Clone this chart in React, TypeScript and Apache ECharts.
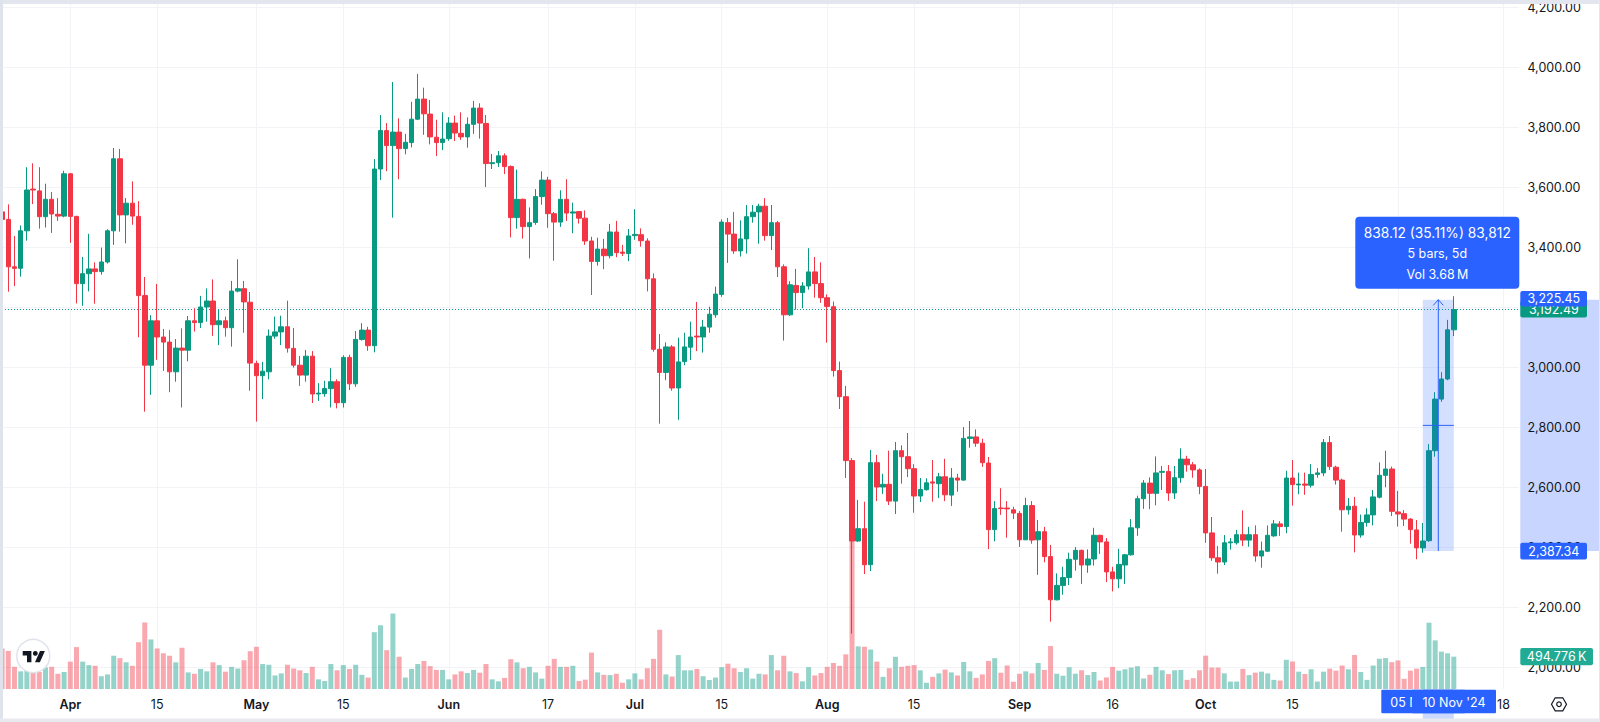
import React, { useEffect, useRef } from "react";
import * as echarts from "echarts";

const firstDay = "2024-03-21";
const slotCount = 245;

const opens = [
  3518,3493,3335,3330,3455,3594,3588,3502,3560,3510,
  3504,3645,3503,3279,3312,3328,3319,3351,3455,3695,
  3508,3547,3503,3239,3007,3155,3101,3084,2985,3064,
  3057,3155,3149,3201,3221,3142,3155,3132,3254,3262,
  3217,3013,2972,2985,3104,3118,3135,3063,3007,2974,
  3037,2911,2912,2929,2952,2882,3033,2945,3093,3124,
  3072,3661,3789,3739,3784,3729,3749,3827,3894,3844,
  3767,3749,3762,3814,3780,3768,3810,3864,3813,3679,
  3682,3705,3669,3499,3560,3469,3483,3569,3624,3512,
  3484,3560,3514,3519,3497,3421,3353,3394,3372,3451,
  3384,3379,3439,3442,3421,3295,3060,2983,3068,2931,
  3019,3067,3104,3101,3134,3175,3243,3482,3444,3388,
  3428,3502,3518,3537,3439,3482,3335,3175,3273,3249,
  3271,3318,3279,3232,3202,2989,2902,2689,2421,2462,
  2342,2682,2601,2610,2554,2722,2702,2662,2571,2592,
  2618,2612,2635,2574,2631,2624,2763,2768,2747,2681,
  2459,2531,2531,2525,2513,2425,2539,2425,2452,2369,
  2225,2273,2299,2360,2390,2341,2361,2440,2418,2318,
  2295,2341,2375,2465,2562,2614,2580,2650,2653,2581,
  2632,2694,2675,2658,2603,2448,2365,2351,2415,2415,
  2442,2424,2442,2371,2387,2438,2478,2469,2631,2608,
  2611,2607,2643,2648,2749,2667,2624,2525,2537,2441,
  2483,2508,2567,2640,2661,2518,2512,2494,2458,2398,
  2422,2722,2894,2961,3125,
];
const closes = [
  3493,3335,3330,3455,3591,3591,3502,3560,3511,3504,
  3645,3503,3279,3312,3328,3319,3351,3455,3695,3508,
  3547,3504,3239,3007,3155,3101,3084,2985,3064,3057,
  3155,3149,3201,3221,3142,3155,3132,3254,3262,3218,
  3014,2972,2987,3104,3118,3135,3064,3007,2974,3037,
  2911,2914,2929,2952,2882,3033,2945,3093,3124,3072,
  3661,3789,3739,3784,3729,3750,3827,3894,3845,3768,
  3749,3761,3814,3781,3768,3810,3864,3814,3679,3682,
  3705,3669,3499,3560,3469,3482,3569,3624,3512,3484,
  3560,3514,3518,3497,3421,3353,3394,3372,3451,3382,
  3380,3438,3443,3422,3295,3060,2983,3068,2931,3018,
  3068,3101,3101,3134,3177,3244,3484,3444,3388,3428,
  3502,3517,3537,3439,3482,3335,3175,3275,3249,3271,
  3318,3279,3232,3203,2989,2902,2689,2421,2462,2342,
  2682,2601,2610,2554,2722,2702,2662,2571,2593,2615,
  2614,2635,2575,2631,2624,2763,2768,2747,2682,2459,
  2529,2529,2528,2514,2425,2539,2424,2452,2369,2225,
  2273,2299,2360,2390,2341,2361,2440,2418,2318,2295,
  2343,2375,2465,2562,2614,2580,2648,2653,2581,2632,
  2694,2675,2658,2603,2448,2365,2351,2415,2418,2442,
  2424,2442,2371,2388,2440,2478,2469,2631,2609,2611,
  2607,2643,2648,2749,2669,2624,2525,2537,2441,2483,
  2508,2568,2640,2661,2520,2511,2494,2459,2398,2421,
  2722,2894,2961,3125,3192.49,
];
const lows = [
  3470,3252,3271,3302,3422,3544,3462,3466,3448,3488,
  3500,3415,3213,3205,3253,3212,3309,3346,3408,3452,
  3413,3475,3100,2852,2908,3025,2988,2917,2952,2866,
  3020,3119,3131,3152,3105,3074,3102,3069,3250,3115,
  2922,2819,2894,2960,3095,3074,3049,2999,2938,2952,
  2881,2888,2902,2866,2863,2866,2924,2935,3089,3055,
  3050,3624,3654,3499,3627,3710,3733,3824,3775,3743,
  3704,3724,3755,3754,3758,3732,3778,3762,3601,3661,
  3668,3644,3433,3462,3429,3363,3475,3542,3465,3355,
  3468,3488,3447,3479,3408,3241,3339,3327,3363,3367,
  3371,3354,3425,3402,3253,3052,2812,2957,2922,2825,
  3007,3024,3054,3049,3115,3165,3235,3348,3378,3369,
  3379,3482,3412,3422,3391,3301,3089,3171,3192,3197,
  3259,3232,3215,3082,2969,2861,2631,2112,2418,2311,
  2321,2554,2578,2541,2511,2612,2634,2515,2551,2589,
  2552,2564,2554,2538,2585,2622,2732,2735,2668,2394,
  2420,2508,2432,2494,2401,2424,2412,2308,2350,2152,
  2223,2242,2274,2322,2278,2315,2339,2378,2284,2253,
  2264,2278,2372,2438,2528,2527,2540,2591,2555,2561,
  2615,2652,2632,2577,2415,2355,2312,2341,2392,2409,
  2404,2402,2352,2332,2384,2435,2438,2447,2539,2577,
  2575,2599,2632,2637,2658,2609,2452,2509,2383,2432,
  2469,2473,2563,2600,2504,2469,2471,2412,2360,2382,
  2418,2702,2885,2957,3104,
];
const highs = [
  3540,3543,3438,3473,3667,3680,3667,3612,3584,3564,
  3655,3648,3505,3368,3445,3350,3399,3460,3731,3728,
  3564,3620,3554,3301,3174,3278,3128,3124,3094,3130,
  3171,3197,3238,3263,3293,3191,3169,3288,3360,3288,
  3251,3022,3018,3126,3169,3172,3222,3131,3038,3058,
  3054,2947,2955,2997,2960,3040,3042,3121,3147,3135,
  3694,3841,3814,3951,3830,3778,3885,3978,3932,3891,
  3825,3850,3834,3839,3850,3833,3888,3880,3841,3711,
  3721,3713,3673,3659,3562,3533,3594,3653,3635,3518,
  3590,3627,3549,3521,3523,3435,3432,3428,3478,3488,
  3408,3461,3527,3463,3430,3313,3111,3083,3074,3099,
  3115,3152,3218,3158,3202,3269,3493,3498,3518,3490,
  3541,3541,3545,3564,3541,3488,3343,3287,3328,3284,
  3397,3368,3350,3243,3219,3019,2938,2697,2558,2552,
  2724,2708,2645,2722,2751,2740,2781,2677,2631,2630,
  2691,2648,2695,2664,2645,2801,2821,2793,2762,2701,
  2554,2597,2554,2535,2521,2565,2554,2491,2468,2408,
  2313,2335,2382,2401,2392,2393,2465,2442,2431,2335,
  2395,2378,2494,2572,2624,2633,2703,2671,2674,2671,
  2730,2705,2684,2663,2661,2501,2404,2441,2431,2458,
  2523,2468,2473,2419,2473,2491,2487,2655,2691,2649,
  2649,2677,2664,2761,2771,2672,2629,2564,2568,2509,
  2530,2591,2683,2722,2669,2588,2524,2497,2491,2481,
  2744,2917,2984,3158,3237,
];
const volumesK = [
  620,583,339,270,276,249,260,329,339,233,
  260,419,641,419,366,355,196,223,509,472,
  408,355,716,1018,758,620,546,509,408,631,
  254,233,307,270,408,366,265,339,313,440,
  578,647,382,371,207,239,371,313,286,244,
  339,148,122,382,286,366,307,371,217,175,
  869,975,594,1155,493,175,307,382,429,350,
  292,292,148,223,270,244,292,249,382,148,
  117,170,456,408,318,339,254,159,355,461,
  339,339,355,122,143,557,254,217,212,233,
  95,148,239,148,318,461,906,223,191,519,
  286,286,307,196,138,175,334,387,318,260,
  318,159,233,223,519,286,509,270,244,117,
  334,207,244,339,398,355,530,2280,652,647,
  604,419,186,318,493,339,355,366,286,95,
  186,239,297,254,207,413,270,170,223,429,
  472,249,360,111,233,270,239,398,292,657,
  233,203,333,234,286,213,260,130,177,338,
  281,302,328,348,161,218,338,286,229,286,
  291,140,166,286,510,328,328,239,114,114,
  307,213,250,265,239,140,130,447,421,265,
  229,302,114,265,312,281,359,302,520,260,
  140,359,463,473,411,437,156,281,312,338,
  1014,744,572,546,494.776,
];

const priceTicks = { min: 2000, max: 4200, step: 200 };
const timeTicks: [string, string, boolean][] = [
  ["2024-04-01", "Apr", true], ["2024-04-15", "15", false],
  ["2024-05-01", "May", true], ["2024-05-15", "15", false],
  ["2024-06-01", "Jun", true], ["2024-06-17", "17", false],
  ["2024-07-01", "Jul", true], ["2024-07-15", "15", false],
  ["2024-08-01", "Aug", true], ["2024-08-15", "15", false],
  ["2024-09-01", "Sep", true], ["2024-09-16", "16", false],
  ["2024-10-01", "Oct", true], ["2024-10-15", "15", false],
  ["2024-11-01", "Nov", true], ["2024-11-18", "18", false],
];

const measureStartDay = "2024-11-05";
const measureEndDay = "2024-11-10";
const measureLow = 2387.34;
const measureHigh = 3225.45;
const lastClose = 3192.49;
const measureTexts = ["838.12 (35.11%) 83,812", "5 bars, 5d", "Vol 3.68\u2009M"];

const UP = "#089981";
const DOWN = "#f23645";
const BLUE = "#2962ff";
const GRID = "#f2f3f6";
const TEXT = "#131722";
const FONT = "Inter, 'Noto Sans', sans-serif";

// layout of the pane: pixels per unit on the price scale
const plotTop = 4;
const plotBottom = 689;
const plotLeft = -1.04;
const plotWidth = 1520;
const y2000 = 667.3;
const pxPerPrice = 0.3;
const pxPerVolumeK = 1 / 15.3;
const yOf = (p: number) => y2000 - (p - 2000) * pxPerPrice;

const categories: string[] = [];
{
  const d = new Date(firstDay + "T00:00:00Z");
  for (let i = 0; i < slotCount; i++) {
    categories.push(d.toISOString().slice(0, 10));
    d.setUTCDate(d.getUTCDate() + 1);
  }
}
const tickMap = new Map(timeTicks.map((t) => [t[0], t]));
const fmtPrice = (v: number) =>
  v.toLocaleString("en-US", { minimumFractionDigits: 2, maximumFractionDigits: 2 });
const slotX = (day: string) => plotLeft + (categories.indexOf(day) + 0.5) * (plotWidth / slotCount);

function buildGraphic() {
  const mx0 = slotX(measureStartDay);
  const mx1 = slotX(measureEndDay);
  const yHi = yOf(measureHigh);
  const yLo = yOf(measureLow);
  const yLast = yOf(lastClose);
  const axisX = 1520.3;
  const label = (x: number, y: number, t: string, fill = "#fff", z = 110, size = 12.5) => ({
    type: "text", x, y, z, silent: true,
    style: { text: t, fill, font: `${size}px ${FONT}`, textAlign: "center", textVerticalAlign: "middle" },
  });
  const box = (x: number, y: number, w: number, h: number, fill: string, z: number, r = 2) => ({
    type: "rect", z, silent: true, shape: { x, y, width: w, height: h, r },
    style: { fill },
  });
  return [
    // selection shading on the two axes
    box(axisX, yHi, 1599 - axisX, yLo - yHi, "rgba(41,98,255,0.26)", 1, 0),
    box(mx0, 689, mx1 - mx0, 30, "rgba(41,98,255,0.24)", 1, 0),
    // axis value labels
    box(axisX, yLast - 8, 66.7, 16, UP, 100),
    label(axisX + 33.5, yLast, fmtPrice(lastClose), "#fff", 101),
    box(axisX, 291, 66.7, 15.5, BLUE, 102),
    label(axisX + 33.5, 298.6, fmtPrice(measureHigh), "#fff", 103),
    box(axisX, yLo - 8.3, 66.7, 16.6, BLUE, 102),
    label(axisX + 33.5, yLo, fmtPrice(measureLow), "#fff", 103),
    box(axisX, 648, 72.7, 17.3, "#22ab94", 102),
    label(axisX + 36.3, 656.7, "494.776\u2009K", "#fff", 103),
    // measurement tooltip
    box(1355.3, 216.7, 164, 72, BLUE, 104, 4),
    label(1437.3, 232.5, measureTexts[0], "#fff", 105, 13.8),
    label(1437.3, 253.5, measureTexts[1], "#fff", 105),
    label(1437.3, 274, measureTexts[2], "#fff", 105),
    // date labels of the selection
    box(1381.3, 689.7, 84, 23.6, BLUE, 104, 1),
    label(1423, 702, "05 Nov '24", "#fff", 105),
    box(1412, 689.7, 84, 23.6, BLUE, 106, 1),
    label(1454, 702, "10 Nov '24", "#fff", 107),
    // settings icon
    {
      type: "polygon", z: 50, silent: true,
      shape: { points: [[1551.5, 704.3], [1555.2, 697.8], [1562.8, 697.8], [1566.5, 704.3], [1562.8, 710.8], [1555.2, 710.8]] },
      style: { fill: "none", stroke: TEXT, lineWidth: 1.2 },
    },
    {
      type: "circle", z: 50, silent: true,
      shape: { cx: 1559, cy: 704.3, r: 2.3 },
      style: { fill: "none", stroke: TEXT, lineWidth: 1.2 },
    },
    // TradingView badge
    {
      type: "circle", z: 60, silent: true,
      shape: { cx: 33.3, cy: 656, r: 16.5 },
      style: { fill: "#fff", stroke: "#e0e3eb", lineWidth: 1.5 },
    },
    {
      type: "polygon", z: 61, silent: true,
      shape: { points: [[22.7, 651], [31.4, 651], [31.4, 662.3], [27, 662.3], [27, 655.4], [22.7, 655.4]] },
      style: { fill: TEXT },
    },
    {
      type: "circle", z: 61, silent: true,
      shape: { cx: 35.3, cy: 653.4, r: 2.4 },
      style: { fill: TEXT },
    },
    {
      type: "polygon", z: 61, silent: true,
      shape: { points: [[40, 651], [44.9, 651], [39.9, 662.3], [35, 662.3]] },
      style: { fill: TEXT },
    },
    // page frame
    box(0, 0, 1600, 4, "#e3e6ee", 200, 0),
    box(0, 0, 3, 722, "#dfe3ec", 200, 0),
    box(0, 718.5, 1600, 3.5, "#e8eaef", 200, 0),
    box(1599, 0, 1, 722, "#e3e6ee", 200, 0),
  ];
}

export default function App() {
  const ref = useRef<HTMLDivElement>(null);
  useEffect(() => {
    document.body.style.margin = "0";
    const chart = echarts.init(ref.current!, undefined, { renderer: "svg" });
    const option: any = {
      animation: false,
      backgroundColor: "#fff",
      grid: [
        {
          left: plotLeft,
          width: plotWidth,
          top: yOf(priceTicks.max),
          height: (priceTicks.max - priceTicks.min) * pxPerPrice,
          outerBoundsMode: "none",
        },
        {
          left: plotLeft,
          width: plotWidth,
          top: plotTop,
          height: plotBottom - plotTop,
          outerBoundsMode: "none",
        },
      ],
      xAxis: [
        { type: "category", gridIndex: 0, data: categories, show: false, boundaryGap: true },
        {
          type: "category",
          gridIndex: 1,
          data: categories,
          boundaryGap: true,
          z: 5,
          axisLine: { show: false },
          axisTick: { show: false, alignWithLabel: true },
          splitLine: {
            show: true,
            alignWithLabel: true,
            interval: (_: number, v: string) => tickMap.has(v),
            lineStyle: { color: GRID, width: 1 },
          },
          axisLabel: {
            interval: (_: number, v: string) => tickMap.has(v),
            margin: 9,
            color: TEXT,
            fontFamily: FONT,
            fontSize: 12.5,
            hideOverlap: false,
            formatter: (v: string) => {
              const t = tickMap.get(v);
              if (!t) return "";
              return t[2] ? `{m|${t[1]}}` : t[1];
            },
            rich: { m: { fontWeight: 600, fontFamily: FONT, fontSize: 12.5, color: TEXT } },
          },
        },
      ],
      yAxis: [
        {
          type: "value",
          gridIndex: 0,
          position: "right",
          min: priceTicks.min,
          max: priceTicks.max,
          interval: priceTicks.step,
          z: 5,
          axisLine: { show: false },
          axisTick: { show: false },
          splitLine: { show: true, lineStyle: { color: GRID, width: 1 } },
          axisLabel: {
            margin: 8.5,
            color: TEXT,
            fontFamily: FONT,
            fontSize: 12.5,
            align: "left",
            showMinLabel: true,
            showMaxLabel: true,
            formatter: (v: number) => fmtPrice(v),
          },
        },
        {
          type: "value",
          gridIndex: 1,
          min: 0,
          max: (plotBottom - plotTop) / pxPerVolumeK,
          show: false,
          splitLine: { show: false },
        },
      ],
      graphic: { elements: buildGraphic() },
      series: [
        {
          type: "bar",
          xAxisIndex: 1,
          yAxisIndex: 1,
          barWidth: 5,
          z: 10,
          silent: true,
          data: volumesK.map((v, i) => ({
            value: v,
            itemStyle: { color: closes[i] >= opens[i] ? "rgba(8,153,129,0.43)" : "rgba(242,54,69,0.43)" },
          })),
        },
        {
          type: "candlestick",
          xAxisIndex: 0,
          yAxisIndex: 0,
          barWidth: 5,
          z: 11,
          silent: true,
          itemStyle: { color: UP, color0: DOWN, borderColor: UP, borderColor0: DOWN, borderWidth: 1 },
          data: opens.map((o, i) => [o, closes[i], lows[i], highs[i]]),
          markLine: {
            silent: true,
            symbol: ["none", "none"],
            label: { show: false },
            lineStyle: { color: UP, width: 1, type: [1, 2] },
            data: [{ yAxis: lastClose }],
          },
        },
        {
          type: "custom",
          xAxisIndex: 0,
          yAxisIndex: 0,
          z: 12,
          silent: true,
          clip: false,
          encode: { x: 0, y: 1 },
          data: [[measureStartDay, measureLow]],
          renderItem: (_: any, api: any) => {
            const a = api.coord([measureStartDay, measureLow]);
            const b = api.coord([measureEndDay, measureHigh]);
            const midY = api.coord([measureStartDay, (measureLow + measureHigh) / 2])[1];
            const midX = (a[0] + b[0]) / 2;
            return {
              type: "group",
              children: [
                {
                  type: "rect",
                  shape: { x: a[0], y: b[1], width: b[0] - a[0], height: a[1] - b[1] },
                  style: { fill: "rgba(41,98,255,0.2)" },
                },
                {
                  type: "line",
                  shape: { x1: midX, y1: a[1], x2: midX, y2: b[1] },
                  style: { stroke: BLUE, lineWidth: 1 },
                },
                {
                  type: "line",
                  shape: { x1: a[0], y1: midY, x2: b[0], y2: midY },
                  style: { stroke: BLUE, lineWidth: 1 },
                },
                {
                  type: "polyline",
                  shape: { points: [[midX - 5, b[1] + 5.7], [midX, b[1]], [midX + 5, b[1] + 5.7]] },
                  style: { fill: "none", stroke: BLUE, lineWidth: 1 },
                },
              ],
            };
          },
        },
      ],
    };
    chart.setOption(option);
    return () => chart.dispose();
  }, []);
  return <div ref={ref} style={{ width: 1600, height: 722 }} />;
}
